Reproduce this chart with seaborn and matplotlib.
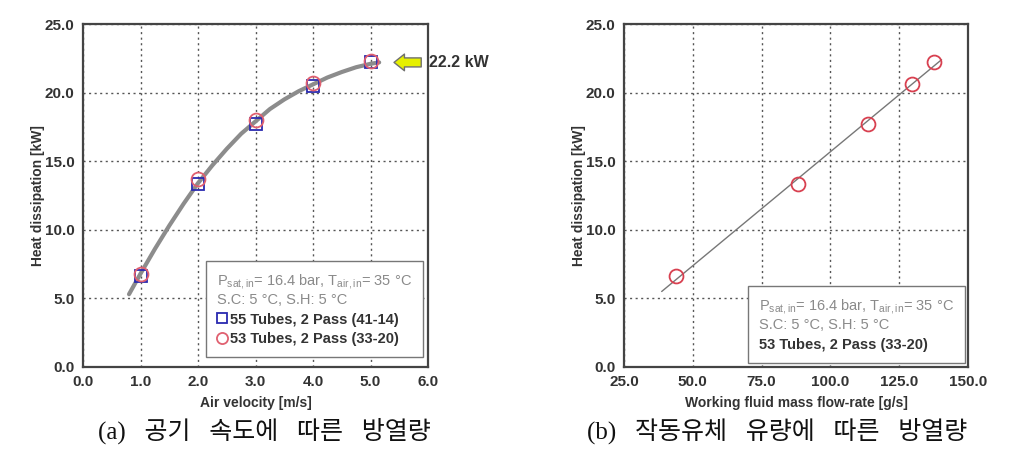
import numpy as np
import pandas as pd
import matplotlib
matplotlib.use('Agg')
import matplotlib.pyplot as plt
from matplotlib.lines import Line2D
import seaborn as sns

# data
air_velocity = [1.0, 2.0, 3.0, 4.0, 5.0]
heat_55_tubes = [6.6, 13.3, 17.7, 20.5, 22.2]
heat_53_tubes = [6.8, 13.7, 18.0, 20.7, 22.3]

# trend curve through the air velocity points
curve_x = [0.8, 1.0, 1.25, 1.5, 1.75, 2.0, 2.25, 2.5, 2.75, 3.0, 3.25,
           3.5, 3.75, 4.0, 4.25, 4.5, 4.75, 5.0, 5.15]
curve_y = [5.3, 6.8, 8.6, 10.3, 11.9, 13.4, 14.7, 15.9, 17.0, 17.9, 18.8,
           19.5, 20.1, 20.6, 21.1, 21.5, 21.85, 22.1, 22.2]

mass_flow = [44.0, 88.2, 113.5, 129.6, 137.6]
heat_mass = [6.6, 13.3, 17.7, 20.6, 22.2]
fit_x = [38.7, 140.4]
fit_y = [5.5, 22.4]

max_heat = 22.2

cond_text = "P$_{sat,in}$= 16.4 bar, T$_{air,in}$= 35 \u00b0C\nS.C: 5 \u00b0C, S.H: 5 \u00b0C"
label_55 = "55 Tubes, 2 Pass (41-14)"
label_53 = "53 Tubes, 2 Pass (33-20)"

sns.set_style('white')
plt.rcParams['font.family'] = ['Liberation Sans', 'DejaVu Sans']
plt.rcParams['mathtext.fontset'] = 'custom'
plt.rcParams['mathtext.rm'] = 'Liberation Sans'
plt.rcParams['mathtext.it'] = 'Liberation Sans'

fig = plt.figure(figsize=(10.1, 4.53), dpi=100)
ax1 = fig.add_axes([0.0822, 0.190, 0.3416, 0.757])
ax2 = fig.add_axes([0.6178, 0.190, 0.3406, 0.757])

grid_kw = dict(color='#555555', linestyle=(0, (1.5, 2.5)), linewidth=1.0)
leg_kw = dict(loc='lower right', borderaxespad=0, fancybox=False, framealpha=1,
              edgecolor='#777777', fontsize=10.5, title_fontsize=10.5,
              borderpad=0.75, labelspacing=0.38, alignment='left')

# ---- (a) air velocity ----
sns.lineplot(x=curve_x, y=curve_y, ax=ax1, color='#8c8c8c', linewidth=3,
             solid_capstyle='round', solid_joinstyle='round', zorder=3)
sns.lineplot(x=air_velocity, y=heat_55_tubes, ax=ax1, linestyle='none', marker='s',
             markersize=8, mfc='none', mec='#2a2ab0', mew=1.3, zorder=4)
sns.lineplot(x=air_velocity, y=heat_53_tubes, ax=ax1, linestyle='none', marker='o',
             markersize=10, mfc='none', mec='#e06070', mew=1.3, zorder=5)
ax1.set_xlim(0, 6)
ax1.set_ylim(0, 25)
ax1.set_xticks(np.arange(0, 6.1, 1.0))
ax1.set_yticks(np.arange(0, 25.1, 5.0))
ax1.set_xticklabels([f"{v:.1f}" for v in np.arange(0, 6.1, 1.0)])
ax1.set_yticklabels([f"{v:.1f}" for v in np.arange(0, 25.1, 5.0)])
ax1.set_xlabel("Air velocity [m/s]", fontsize=10, fontweight='bold', color='#333333', labelpad=5)
ax1.set_ylabel("Heat dissipation [kW]", fontsize=10, fontweight='bold', color='#333333', labelpad=0)

ax1.annotate('', xy=(5.36, max_heat), xytext=(5.93, max_heat),
             arrowprops=dict(arrowstyle='simple,head_width=1.2,head_length=0.75,tail_width=0.65',
                             fc='#e6f000', ec='#707070', lw=1))
ax1.text(6.02, max_heat, f"{max_heat} kW", fontsize=11.5, fontweight='bold', color='#333333',
         ha='left', va='center', clip_on=False)

h55 = Line2D([], [], linestyle='none', marker='s', markersize=7, mfc='none', mec='#2a2ab0', mew=1.3)
h53 = Line2D([], [], linestyle='none', marker='o', markersize=8, mfc='none', mec='#e06070', mew=1.3)
leg1 = ax1.legend([h55, h53], [label_55, label_53], title=cond_text,
                  bbox_to_anchor=(0.986, 0.029), handlelength=0.6, handletextpad=0.25, **leg_kw)
leg1.get_title().set_color('#8a8a8a')
for t in leg1.get_texts():
    t.set_fontweight('bold')
    t.set_color('#333333')

# ---- (b) mass flow ----
sns.lineplot(x=fit_x, y=fit_y, ax=ax2, color='#777777', linewidth=1.0, zorder=3)
sns.lineplot(x=mass_flow, y=heat_mass, ax=ax2, linestyle='none', marker='o',
             markersize=10, mfc='none', mec='#d84050', mew=1.3, zorder=4)
ax2.set_xlim(25, 150)
ax2.set_ylim(0, 25)
ax2.set_xticks(np.arange(25, 150.1, 25))
ax2.set_yticks(np.arange(0, 25.1, 5.0))
ax2.set_xticklabels([f"{v:.1f}" for v in np.arange(25, 150.1, 25)])
ax2.set_yticklabels([f"{v:.1f}" for v in np.arange(0, 25.1, 5.0)])
ax2.set_xlabel("Working fluid mass flow-rate [g/s]", fontsize=10, fontweight='bold', color='#333333', labelpad=5)
ax2.set_ylabel("Heat dissipation [kW]", fontsize=10, fontweight='bold', color='#333333', labelpad=0)

hnone = Line2D([], [], linestyle='none')
leg2 = ax2.legend([hnone], [label_53], title=cond_text,
                  bbox_to_anchor=(0.991, 0.012), handlelength=0, handletextpad=0, **leg_kw)
leg2.get_title().set_color('#8a8a8a')
for t in leg2.get_texts():
    t.set_fontweight('bold')
    t.set_color('#333333')

for ax in (ax1, ax2):
    ax.grid(True, **grid_kw)
    ax.set_axisbelow(True)
    ax.tick_params(direction='in', length=3, labelsize=11, labelcolor='#333333', color='#333333', pad=6)
    for lbl in ax.get_xticklabels() + ax.get_yticklabels():
        lbl.set_fontweight('bold')
    for sp in ax.spines.values():
        sp.set_color('#444444')
        sp.set_linewidth(1.6)

cap_family = ['Liberation Serif', 'Noto Sans CJK KR']
fig.text(0.262, 0.050, "(a)   공기   속도에   따른   방열량", family=cap_family, fontsize=18,
         ha='center', va='center', color='#111111')
fig.text(0.769, 0.050, "(b)   작동유체   유량에   따른   방열량", family=cap_family, fontsize=18,
         ha='center', va='center', color='#111111')

fig.savefig('out.png', dpi=100)
